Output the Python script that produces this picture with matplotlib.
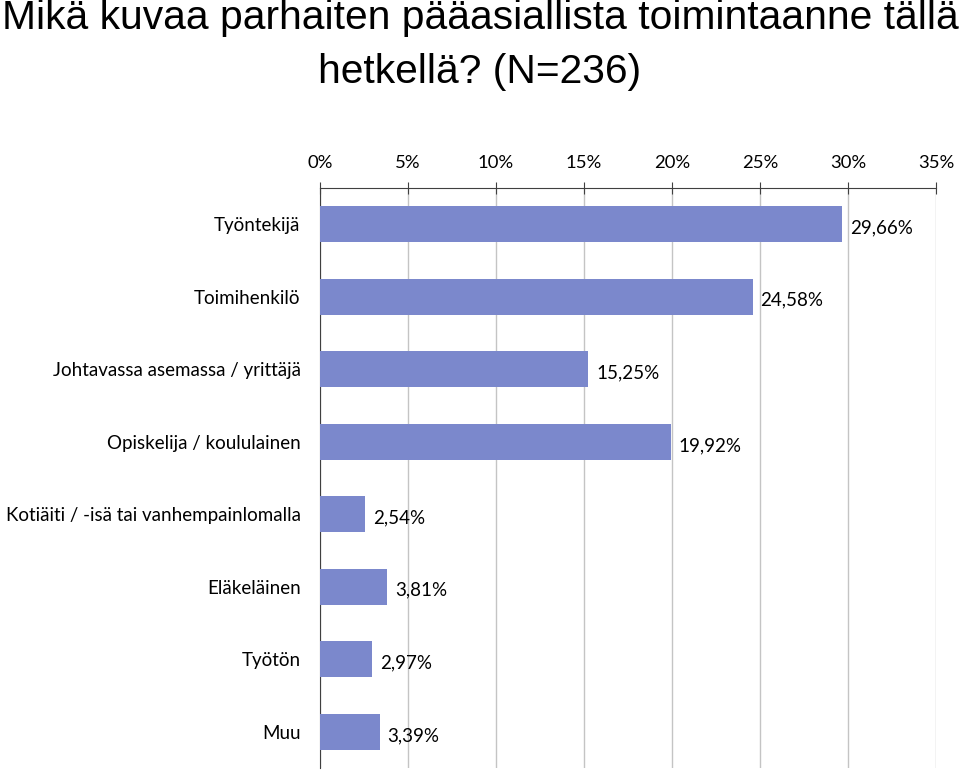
import matplotlib
matplotlib.use("Agg")
import matplotlib.pyplot as plt
from matplotlib.ticker import MultipleLocator, FuncFormatter

categories = ["Työntekijä", "Toimihenkilö", "Johtavassa asemassa / yrittäjä",
              "Opiskelija / koululainen", "Kotiäiti / -isä tai vanhempainlomalla",
              "Eläkeläinen", "Työtön", "Muu"]
values = [29.66, 24.58, 15.25, 19.92, 2.54, 3.81, 2.97, 3.39]
title_lines = ["Mikä kuvaa parhaiten pääasiallista toimintaanne tällä",
               "hetkellä? (N=236)"]

fig = plt.figure(figsize=(9.6, 7.7), dpi=100)
ax = fig.add_axes([320/960, 2/770, (936-320)/960, (768-188)/770])

y = list(range(len(categories)))
ax.barh(y, values, height=0.5, color="#7b88cc", zorder=3)
ax.set_ylim(len(categories) - 0.5, -0.5)
ax.set_xlim(0, 35)
ax.xaxis.set_major_locator(MultipleLocator(5))
ax.xaxis.set_major_formatter(FuncFormatter(lambda v, p: f"{int(round(v))}%"))
ax.xaxis.tick_top()
ax.grid(axis="x", color="#c4c4c4", linewidth=1, zorder=0)
ax.tick_params(axis="x", top=True, bottom=False, direction="inout", length=8,
               color="#404040", labelsize=13.3, pad=8)
ax.tick_params(axis="y", length=0, labelsize=13.5, pad=14)
for lab in ax.get_xticklabels() + ax.get_yticklabels():
    lab.set_fontfamily("Lato")
ax.set_yticks(y)
ax.set_yticklabels(categories)
for s in ["right", "bottom"]:
    ax.spines[s].set_visible(False)
ax.spines["top"].set_color("#404040")
ax.spines["left"].set_color("#404040")

for yi, v in zip(y, values):
    ax.text(v + 0.45, yi + 0.05, f"{v:.2f}%".replace(".", ","), va="center",
            ha="left", fontsize=13.5, family="Lato", color="black", zorder=4)

fig.text(0.5, 1 - 18/770, title_lines[0], ha="center", va="center",
         fontsize=29.3, family="Liberation Sans")
fig.text(0.5, 1 - 72/770, title_lines[1], ha="center", va="center",
         fontsize=29.3, family="Liberation Sans")

fig.savefig("out.png", dpi=100)
